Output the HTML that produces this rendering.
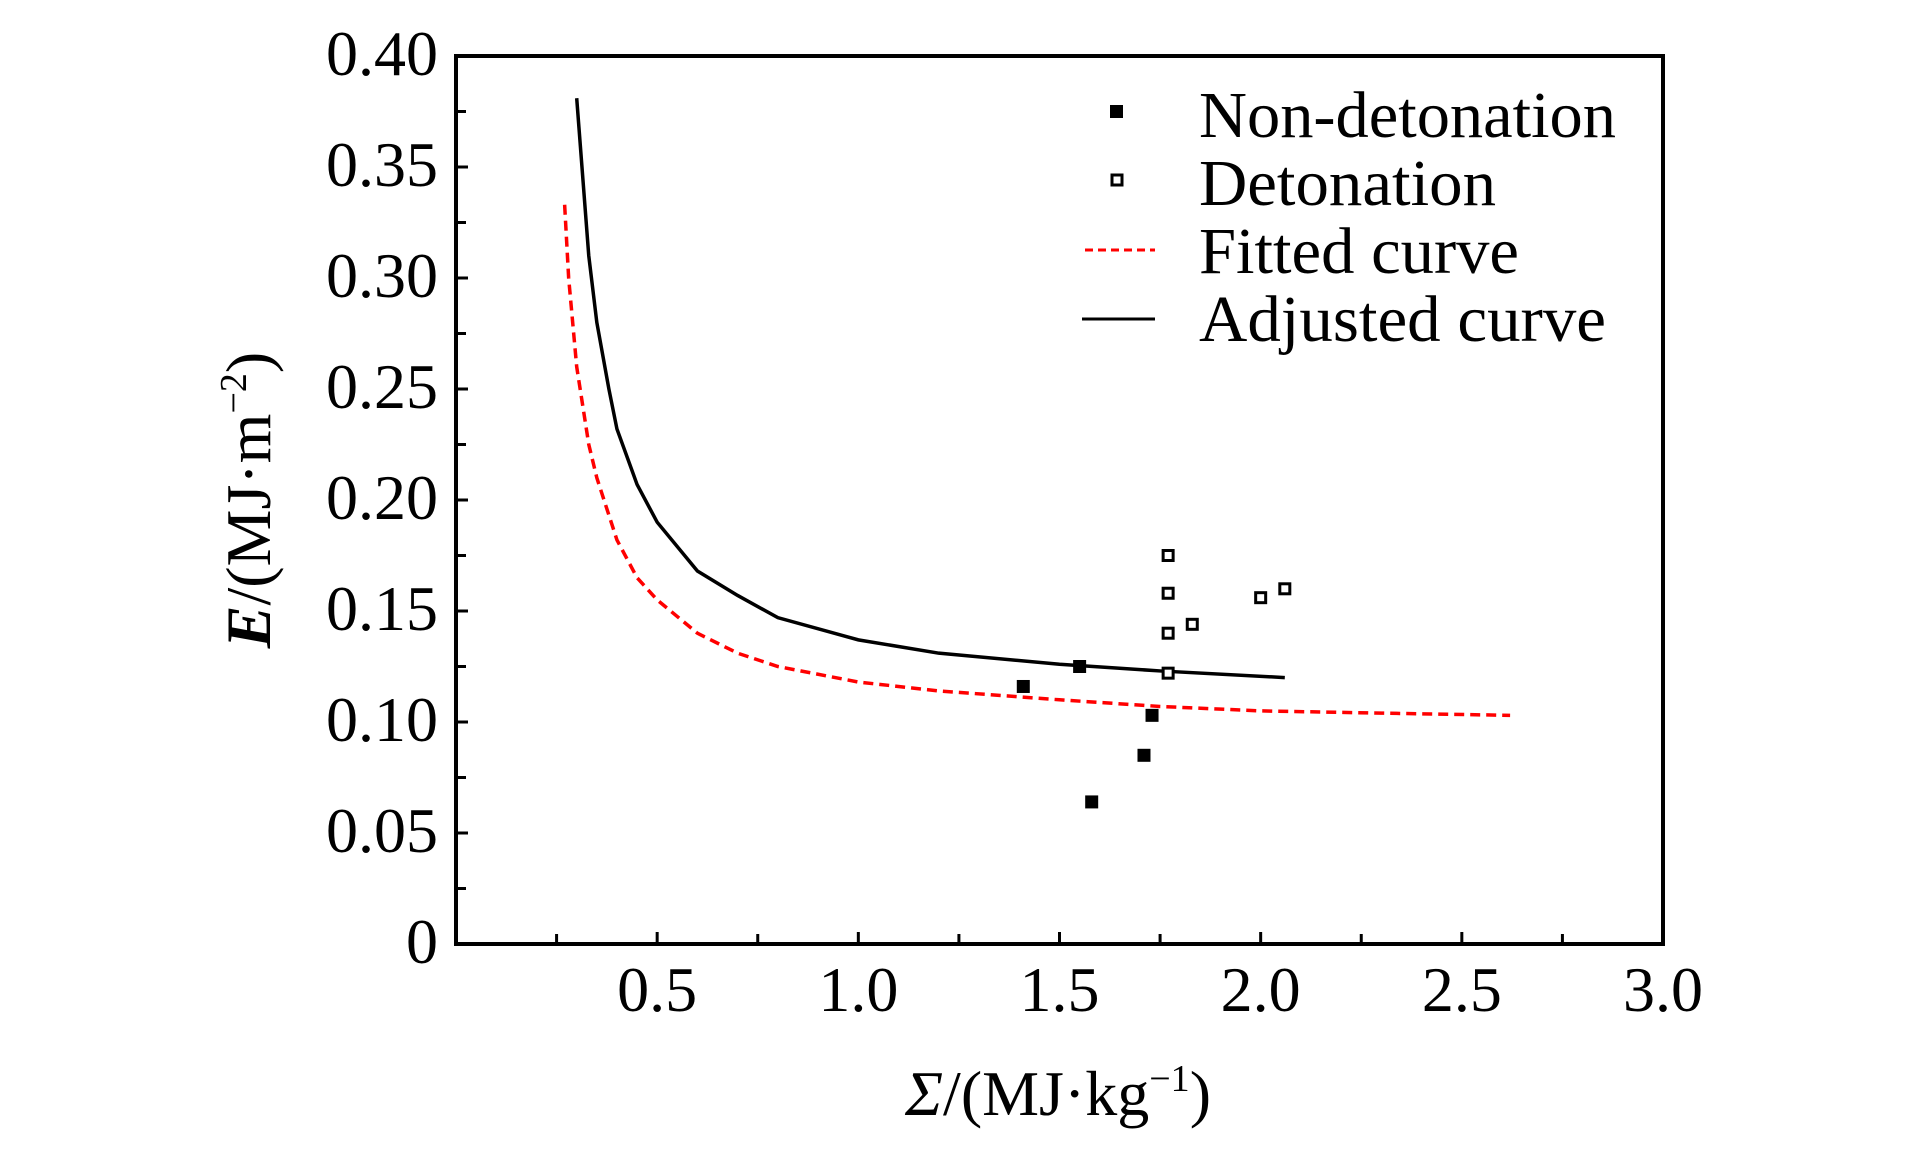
<!DOCTYPE html>
<html><head><meta charset="utf-8"><style>
html,body{margin:0;padding:0;background:#fff;}
svg{display:block;font-family:"Liberation Serif",serif;}
</style></head><body>
<svg id="chart" width="1923" height="1169" viewBox="0 0 1923 1169" xmlns="http://www.w3.org/2000/svg">
</svg>
<script>
const xTicks=[0.5,1.0,1.5,2.0,2.5,3.0];
const xTickLabels=["0.5","1.0","1.5","2.0","2.5","3.0"];
const yTicks=[0,0.05,0.10,0.15,0.20,0.25,0.30,0.35,0.40];
const yTickLabels=["0","0.05","0.10","0.15","0.20","0.25","0.30","0.35","0.40"];
const nonDetX=[1.41,1.55,1.58,1.71,1.73];
const nonDetY=[0.116,0.125,0.064,0.085,0.103];
const detX=[1.77,1.77,1.77,1.77,1.83,2.00,2.06];
const detY=[0.175,0.158,0.140,0.122,0.144,0.156,0.160];
const adjX=[0.30,0.33,0.35,0.38,0.40,0.45,0.50,0.60,0.70,0.80,1.0,1.2,1.5,1.75,2.06];
const adjY=[0.381,0.31,0.28,0.25,0.232,0.207,0.190,0.168,0.157,0.147,0.137,0.131,0.126,0.123,0.120];
const fitX=[0.27,0.28,0.30,0.33,0.35,0.40,0.45,0.50,0.60,0.70,0.80,1.0,1.2,1.5,1.75,2.0,2.3,2.62];
const fitY=[0.333,0.30,0.26,0.225,0.210,0.182,0.165,0.155,0.140,0.131,0.125,0.118,0.114,0.110,0.107,0.105,0.104,0.103];

const L=456,R=1663,T=56,B=944;
const sx=v=>L+(v-0)/(3-0)*(R-L);
const sy=v=>B-(v-0)/(0.4-0)*(B-T);
const NS="http://www.w3.org/2000/svg";
const svg=document.getElementById('chart');
function mk(tag,attrs,parent){const e=document.createElementNS(NS,tag);for(const k in attrs)e.setAttribute(k,attrs[k]);(parent||svg).appendChild(e);return e;}

for(let i=1;i<12;i++){const v=i*0.25;const x=sx(v);const len=(i%2===0)?12:10;
 const t=mk('line',{x1:x,y1:B,x2:x,y2:B-len,stroke:'#000','stroke-width':3});
 
 }
for(let i=1;i<16;i++){const v=i*0.025;const y=sy(v);const len=(i%2===0)?12:10;
 const t=mk('line',{x1:L,y1:y,x2:L+len,y2:y,stroke:'#000','stroke-width':3});
 
 }
xTicks.forEach((v,i)=>{const t=mk('text',{x:sx(v),y:1011,'font-size':64,'text-anchor':'middle'});t.textContent=xTickLabels[i];
 
 });
yTicks.forEach((v,i)=>{const t=mk('text',{x:438,y:sy(v)+19,'font-size':64,'text-anchor':'end'});t.textContent=yTickLabels[i];
 
 });

const fp=fitX.map((x,i)=>sx(x)+','+sy(fitY[i])).join(' ');
const fl=mk('polyline',{points:fp,fill:'none',stroke:'#f00','stroke-width':3.5,'stroke-dasharray':'10,6'});


const ap=adjX.map((x,i)=>sx(x)+','+sy(adjY[i])).join(' ');
const al=mk('polyline',{points:ap,fill:'none',stroke:'#000','stroke-width':3.5});



nonDetX.forEach((x,i)=>{const r=mk('rect',{x:sx(x)-6.5,y:sy(nonDetY[i])-6.5,width:13,height:13,fill:'#000'});
 
 });
detX.forEach((x,i)=>{const r=mk('rect',{x:sx(x)-5,y:sy(detY[i])-5,width:10,height:10,fill:'#fff',stroke:'#000','stroke-width':3});
 
 });

const fr=mk('rect',{x:L,y:T,width:R-L,height:B-T,fill:'none',stroke:'#000','stroke-width':4});


</script>
<script>
(function(){
const svg=document.getElementById('chart');const NS="http://www.w3.org/2000/svg";
function mk(tag,attrs){const e=document.createElementNS(NS,tag);for(const k in attrs)e.setAttribute(k,attrs[k]);svg.appendChild(e);return e;}
let e;
e=mk('rect',{x:1110,y:105,width:13,height:13,fill:'#000'});


e=mk('rect',{x:1112,y:175,width:10,height:10,fill:'#fff',stroke:'#000','stroke-width':3});


e=mk('line',{x1:1085,y1:250,x2:1155,y2:250,stroke:'#f00','stroke-width':3,'stroke-dasharray':'8,5'});


e=mk('line',{x1:1082,y1:319,x2:1155,y2:319,stroke:'#000','stroke-width':3});


const labels=[["Non-detonation",137,417],["Detonation",205,297],["Fitted curve",273,320],["Adjusted curve",341,407]];
labels.forEach(l=>{const t=mk('text',{x:1199,y:l[1],'font-size':66,textLength:l[2],lengthAdjust:'spacingAndGlyphs'});t.textContent=l[0];
 
 });
const xt=mk('text',{x:1058,y:1115,'font-size':64,'text-anchor':'middle'});


xt.innerHTML='<tspan font-style="italic">Σ</tspan>/(MJ·kg<tspan font-size="38" dy="-24">−1</tspan><tspan dy="24">)</tspan>';
const yt=mk('text',{x:0,y:0,'font-size':64,'text-anchor':'middle',transform:'translate(270,500) rotate(-90)'});


yt.innerHTML='<tspan font-style="italic" font-weight="bold">E</tspan>/(MJ·m<tspan font-size="38" dy="-24">−2</tspan><tspan dy="24">)</tspan>';
})();
</script>
</body></html>
